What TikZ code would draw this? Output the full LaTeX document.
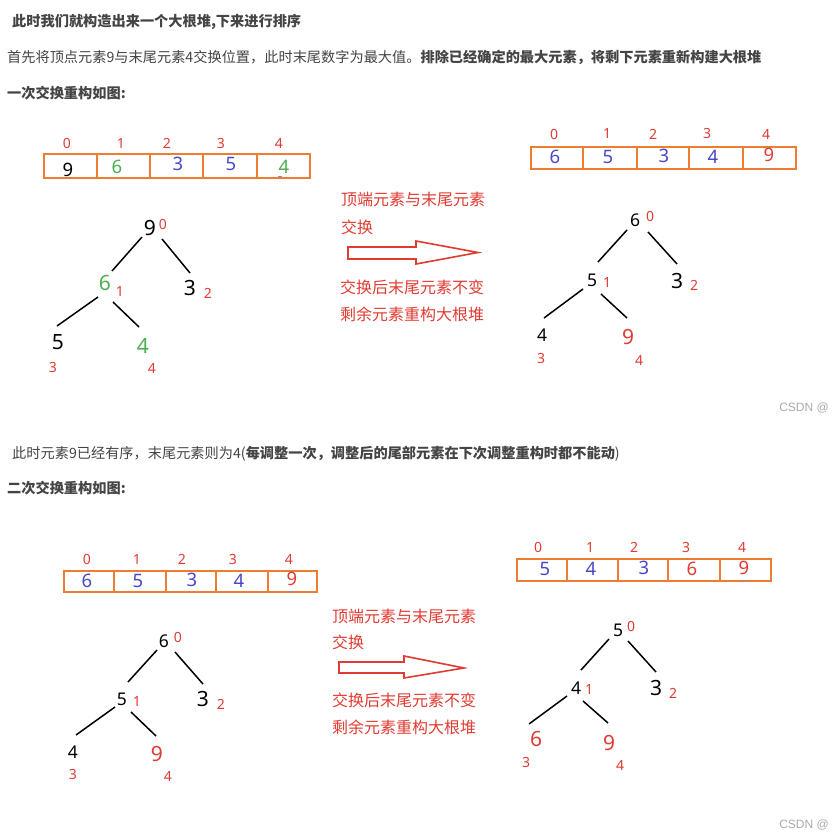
\documentclass[tikz,border=0pt]{standalone}
\usepackage{fontspec}
\setmainfont{Noto Sans CJK SC}
\newfontfamily\numf{Noto Sans}
\newfontfamily\wmf{Liberation Sans}
\definecolor{myorange}{HTML}{ED7D31}
\definecolor{myred}{HTML}{E03C32}
\definecolor{mygreen}{HTML}{4CAF50}
\definecolor{myblue}{HTML}{4848C8}
\definecolor{txtgray}{HTML}{444444}
\definecolor{wmgray}{HTML}{AAAAAA}
\definecolor{markblue}{HTML}{8888CC}
\begin{document}
\begin{tikzpicture}[x=1pt,y=-1pt,
  hd/.style={anchor=base west, inner sep=0, text=txtgray, font=\fontsize{14.2}{17}\selectfont},
  rtxt/.style={anchor=base west, inner sep=0, text=myred, font=\fontsize{16}{19}\selectfont},
  cell/.style={draw=myorange, line width=1.8pt, inner sep=0},
  idx/.style={text=myred, font=\numf\fontsize{14}{15}\selectfont, inner sep=0},
  val/.style={font=\numf\fontsize{18.5}{20}\selectfont, inner sep=0},
  tn/.style={font=\numf\fontsize{21}{23}\selectfont, inner sep=0},
  tns/.style={font=\numf\fontsize{17.5}{20}\selectfont, inner sep=0},
  tl/.style={text=myred, font=\numf\fontsize{14}{16}\selectfont, inner sep=0},
  tedge/.style={line width=1.5pt, black},
  bigarrow/.style={draw=myred, line width=1.6pt, fill=white, line join=miter},
  wm/.style={anchor=east, inner sep=0, text=wmgray, font=\wmf\fontsize{12}{15}\selectfont},
  tick/.style={fill=markblue}
]
\fill[white] (0,0) rectangle (831,835);
\useasboundingbox (0,0) rectangle (831,835);

% ---------------- headings ----------------
\node[hd] (t1) at (12,26.5) {\bfseries 此时我们就构造出来一个大根堆,下来进行排序};
\node[hd] (t2) at (7,62.5) {首先将顶点元素9与末尾元素4交换位置，此时末尾数字为最大值。\bfseries 排除已经确定的最大元素，将剩下元素重新构建大根堆};
\node[hd] (t3) at (7,98.5) {\bfseries 一次交换重构如图:};
\node[hd] (t4) at (12,458.5) {此时元素9已经有序，末尾元素则为4({\bfseries 每调整一次，调整后的尾部元素在下次调整重构时都不能动})};
\node[hd] (t5) at (7,493.5) {\bfseries 二次交换重构如图:};

% ---------------- array 1 ----------------
\foreach \i/\xl/\xr in {0/44/97,1/97/150,2/150/203,3/203/257,4/257/310}
  \node[cell, minimum width={\xr-\xl}, minimum height=24] (A1c\i) at ({(\xl+\xr)/2},166) {};
\foreach \i/\x in {0/67,1/121,2/167,3/221,4/279}
  \node[idx] (A1i\i) at (\x,143) {\i};
\node[val, text=black] (A1v0) at (68,170) {9};
\node[val, text=mygreen] (A1v1) at (117,167) {6};
\node[val, text=myblue] (A1v2) at (178,164) {3};
\node[val, text=myblue] (A1v3) at (231,164) {5};
\node[val, text=mygreen] (A1v4) at (284,167) {4};
\fill[tick] (278,175.5) rectangle (282,176.7);

% ---------------- tree 1 ----------------
\node[tn] (a0) at (150,228) {9};
\node[tn, text=mygreen] (a1) at (105,283) {6};
\node[tn] (a2) at (190,288) {3};
\node[tn] (a3) at (58,342) {5};
\node[tn, text=mygreen] (a4) at (143,346) {4};
\node[tl] (al0) at (163,224) {0};
\node[tl] (al1) at (120,291) {1};
\node[tl] (al2) at (208,293) {2};
\node[tl] (al3) at (53,367) {3};
\node[tl] (al4) at (152,368) {4};
\draw[tedge] ([shift={(-8,9)}]a0.center) -- ([shift={(7,-12)}]a1.center);
\draw[tedge] ([shift={(12,11)}]a0.center) -- ([shift={(0,-15)}]a2.center);
\draw[tedge] ([shift={(-7,14)}]a1.center) -- ([shift={(-1,-16)}]a3.center);
\draw[tedge] ([shift={(8,19)}]a1.center) -- ([shift={(-4,-19)}]a4.center);

% ---------------- middle text 1 ----------------
\node[rtxt] (r1) at (341,205) {顶端元素与末尾元素};
\node[rtxt] (r2) at (341,233) {交换};
\draw[bigarrow] (348,247) -- (416,247) -- (416,241) -- (478,252.5) -- (416,264) -- (416,259) -- (348,259) -- cycle;
\node[rtxt] (r3) at (340,293) {交换后末尾元素不变};
\node[rtxt] (r4) at (340,320) {剩余元素重构大根堆};

% ---------------- array 2 ----------------
\foreach \i/\xl/\xr in {0/531/583,1/583/637,2/637/689,3/689/743,4/743/796}
  \node[cell, minimum width={\xr-\xl}, minimum height=22] (A2c\i) at ({(\xl+\xr)/2},158) {};
\foreach \i/\x in {0/554,1/607,2/653,3/707,4/766}
  \node[idx] (A2i\i) at (\x,134) {\i};
\node[val, text=myblue] (A2v0) at (555,157) {6};
\node[val, text=myblue] (A2v1) at (608,157) {5};
\node[val, text=myblue] (A2v2) at (664,156) {3};
\node[val, text=myblue] (A2v3) at (713,157) {4};
\node[val, text=myred] (A2v4) at (769,155) {9};
\fill[tick] (766,167.5) rectangle (770,168.7);

% ---------------- tree 2 ----------------
\node[tns] (b0) at (635,220) {6};
\node[tns] (b1) at (592,280) {5};
\node[tn] (b2) at (677,281) {3};
\node[tns] (b3) at (542,335) {4};
\node[tn, text=myred] (b4) at (628,337) {9};
\node[tl] (bl0) at (650,216) {0};
\node[tl] (bl1) at (607,282) {1};
\node[tl] (bl2) at (694,285) {2};
\node[tl] (bl3) at (541,358) {3};
\node[tl] (bl4) at (639,360) {4};
\draw[tedge] ([shift={(-8,10)}]b0.center) -- ([shift={(6,-18)}]b1.center);
\draw[tedge] ([shift={(13,12)}]b0.center) -- ([shift={(0,-17)}]b2.center);
\draw[tedge] ([shift={(-9,9)}]b1.center) -- ([shift={(2,-17)}]b3.center);
\draw[tedge] ([shift={(9,14)}]b1.center) -- ([shift={(-1,-19)}]b4.center);

\node[wm] (w1) at (829,408) {CSDN @};

% ---------------- array 3 ----------------
\foreach \i/\xl/\xr in {0/64/114,1/114/166,2/166/216,3/216/268,4/268/317}
  \node[cell, minimum width={\xr-\xl}, minimum height=21] (A3c\i) at ({(\xl+\xr)/2},581.5) {};
\foreach \i/\x in {0/87,1/137,2/182,3/233,4/289}
  \node[idx] (A3i\i) at (\x,559) {\i};
\node[val, text=myblue] (A3v0) at (87,581) {6};
\node[val, text=myblue] (A3v1) at (138,581) {5};
\node[val, text=myblue] (A3v2) at (192,580) {3};
\node[val, text=myblue] (A3v3) at (239,581) {4};
\node[val, text=myred] (A3v4) at (292,579) {9};
\fill[tick] (289,590.5) rectangle (293,591.7);

% ---------------- tree 3 ----------------
\node[tns] (c0) at (164,641) {6};
\node[tns] (c1) at (122,699) {5};
\node[tn] (c2) at (203,699) {3};
\node[tns] (c3) at (73,752) {4};
\node[tn, text=myred] (c4) at (157,754) {9};
\node[tl] (cl0) at (178,637) {0};
\node[tl] (cl1) at (137,701) {1};
\node[tl] (cl2) at (221,704) {2};
\node[tl] (cl3) at (73,774) {3};
\node[tl] (cl4) at (168,776) {4};
\draw[tedge] ([shift={(-7,9)}]c0.center) -- ([shift={(6,-17)}]c1.center);
\draw[tedge] ([shift={(11,11)}]c0.center) -- ([shift={(0,-15)}]c2.center);
\draw[tedge] ([shift={(-7,8)}]c1.center) -- ([shift={(3,-17)}]c3.center);
\draw[tedge] ([shift={(9,13)}]c1.center) -- ([shift={(-1,-18)}]c4.center);

% ---------------- middle text 2 ----------------
\node[rtxt] (s1) at (332,622) {顶端元素与末尾元素};
\node[rtxt] (s2) at (332,648) {交换};
\draw[bigarrow] (339,662) -- (404,662) -- (404,656) -- (464,668) -- (404,678) -- (404,673) -- (339,673) -- cycle;
\node[rtxt] (s3) at (332,706) {交换后末尾元素不变};
\node[rtxt] (s4) at (332,733) {剩余元素重构大根堆};

% ---------------- array 4 ----------------
\foreach \i/\xl/\xr in {0/517/567,1/567/618,2/618/668,3/668/720,4/720/771}
  \node[cell, minimum width={\xr-\xl}, minimum height=22] (A4c\i) at ({(\xl+\xr)/2},570) {};
\foreach \i/\x in {0/538,1/590,2/634,3/686,4/742}
  \node[idx] (A4i\i) at (\x,547) {\i};
\node[val, text=myblue] (A4v0) at (545,569) {5};
\node[val, text=myblue] (A4v1) at (591,569) {4};
\node[val, text=myblue] (A4v2) at (644,568) {3};
\node[val, text=myred] (A4v3) at (692,569) {6};
\node[val, text=myred] (A4v4) at (744,568) {9};
\fill[tick] (741,579.5) rectangle (745,580.7);

% ---------------- tree 4 ----------------
\node[tns] (d0) at (618,630) {5};
\node[tns] (d1) at (576,688) {4};
\node[tn] (d2) at (656,688) {3};
\node[tn, text=myred] (d3) at (536,739) {6};
\node[tn, text=myred] (d4) at (609,743) {9};
\node[tl] (dl0) at (631,626) {0};
\node[tl] (dl1) at (589,689) {1};
\node[tl] (dl2) at (673,693) {2};
\node[tl] (dl3) at (526,762) {3};
\node[tl] (dl4) at (620,765) {4};
\draw[tedge] ([shift={(-9,9)}]d0.center) -- ([shift={(5,-18)}]d1.center);
\draw[tedge] ([shift={(10,11)}]d0.center) -- ([shift={(0,-16)}]d2.center);
\draw[tedge] ([shift={(-9,8)}]d1.center) -- ([shift={(-7,-15)}]d3.center);
\draw[tedge] ([shift={(7,13)}]d1.center) -- ([shift={(-1,-20)}]d4.center);

\node[wm] (w2) at (829,825) {CSDN @};
\end{tikzpicture}
\end{document}
